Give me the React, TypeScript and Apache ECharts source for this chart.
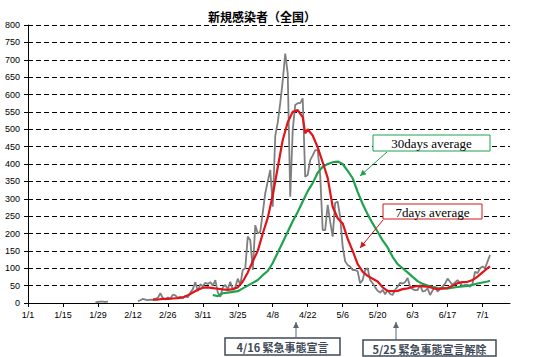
import React, { useEffect, useRef } from "react";
import * as echarts from "echarts";

// x axis: day index from 1/1 (0) to 7/12 (193); labels every 14 days
const tickLabels = ["1/1", "1/15", "1/29", "2/12", "2/26", "3/11", "3/25", "4/8", "4/22", "5/6", "5/20", "6/3", "6/17", "7/1"];
const dayMax = 193;
const tickStep = 14;

// daily new cases (gray)
const grayEarlyStart = 27;
const grayEarly = [1, 3, 4, 4, 3, 4];
const grayStart = 44;
const grayValues = [
  5, 8, 12, 10, 8, 10, 9, 12, 15, 28,
  14, 10, 16, 12, 24, 22, 15, 18, 14, 20,
  16, 30, 40, 60, 34, 54, 48, 58, 55, 60,
  50, 66, 30, 18, 45, 52, 40, 61, 38, 45,
  70, 52, 95, 100, 191, 181, 95, 224, 200, 205,
  260, 316, 350, 383, 277, 480, 520, 575, 640, 718,
  661, 306, 498, 570, 575, 575, 589, 363, 369, 411,
  425, 440, 440, 368, 210, 210, 282, 234, 191, 288,
  292, 248, 162, 120, 109, 105, 95, 95, 91, 57,
  66, 95, 100, 66, 57, 45, 35, 30, 38, 25,
  37, 26, 23, 38, 47, 58, 56, 60, 72, 47,
  40, 37, 37, 52, 33, 35, 42, 23, 36, 47,
  33, 40, 47, 56, 70, 61, 52, 59, 66, 57,
  49, 52, 52, 47, 56, 90, 86, 100, 105, 100,
  119, 138,
];

// 7 days average (red)
const redDays = [50, 52, 54, 56, 58, 60, 62, 64, 66, 68, 70, 72, 74, 76, 78, 80, 82, 84, 86, 88, 90, 92, 94, 96, 98, 100, 102, 104, 106, 108, 110, 111, 112, 114, 116, 118, 120, 122, 124, 126, 128, 130, 132, 134, 136, 138, 140, 142, 144, 146, 148, 150, 152, 154, 156, 158, 160, 162, 164, 166, 168, 170, 172, 174, 176, 178, 180, 182, 184, 185];
const redValues = [10, 10, 12, 12, 13, 14, 16, 22, 30, 38, 44, 45, 43, 41, 39, 38, 40, 45, 62, 88, 120, 150, 200, 245, 310, 390, 469, 520, 550, 555, 535, 488, 500, 482, 448, 405, 360, 277, 244, 229, 185, 150, 112, 90, 78, 70, 62, 45, 35, 34, 35, 40, 42, 46, 49, 48, 47, 43, 40, 42, 43, 50, 57, 60, 61, 66, 76, 88, 100, 105];

// 30 days average (green)
const greenDays = [74, 76, 78, 80, 82, 84, 86, 88, 90, 92, 94, 96, 98, 100, 102, 104, 106, 108, 110, 112, 114, 116, 118, 120, 122, 124, 126, 128, 130, 132, 134, 136, 138, 140, 142, 144, 146, 148, 150, 152, 154, 156, 158, 160, 162, 164, 166, 168, 170, 172, 174, 176, 178, 180, 182, 184, 185];
const greenValues = [23, 20, 28, 30, 32, 34, 42, 50, 58, 66, 80, 92, 115, 145, 175, 205, 235, 262, 292, 322, 345, 375, 392, 400, 405, 407, 400, 380, 359, 320, 285, 255, 229, 205, 180, 160, 133, 112, 100, 88, 75, 63, 55, 50, 46, 43, 42, 42, 44, 46, 48, 49, 52, 56, 59, 62, 64];

const titleText = "新規感染者（全国）";
const label30 = "30days average";
const label7 = "7days average";
const note1 = "4/16 緊急事態宣言";
const note2 = "5/25 緊急事態宣言解除";

function arrowHead(tipX: number, tipY: number, fromX: number, fromY: number, len: number, half: number) {
  const dx = tipX - fromX;
  const dy = tipY - fromY;
  const d = Math.sqrt(dx * dx + dy * dy) || 1;
  const ux = dx / d;
  const uy = dy / d;
  const bx = tipX - ux * len;
  const by = tipY - uy * len;
  return [
    [tipX, tipY],
    [bx - uy * half, by + ux * half],
    [bx + uy * half, by - ux * half],
  ];
}

function arrow(x1: number, y1: number, x2: number, y2: number, color: string, w: number) {
  return [
    { type: "line", shape: { x1, y1, x2, y2 }, style: { stroke: color, lineWidth: w }, z: 100 },
    { type: "polygon", shape: { points: arrowHead(x2, y2, x1, y1, 6, 3) }, style: { fill: color }, z: 100 },
  ];
}

export default function App() {
  const ref = useRef<HTMLDivElement>(null);
  useEffect(() => {
    if (!ref.current) return;
    const chart = echarts.init(ref.current, null, { renderer: "svg" });

    const grayData: (number | null)[][] = [];
    grayEarly.forEach((v, i) => grayData.push([grayEarlyStart + i, v]));
    grayData.push([grayEarlyStart + grayEarly.length, null]);
    grayValues.forEach((v, i) => grayData.push([grayStart + i, v]));
    const redData = redDays.map((d, i) => [d, redValues[i]]);
    const greenData = greenDays.map((d, i) => [d, greenValues[i]]);

    const labelFont = "Liberation Sans";
    const serif = '"Liberation Serif", serif';
    const noteColor = "#3e4a58";

    chart.setOption({
      animation: false,
      backgroundColor: "#fff",
      grid: { left: 28, right: 23, top: 25, bottom: 54, containLabel: false },
      xAxis: {
        type: "value",
        min: 0,
        max: dayMax,
        interval: tickStep,
        axisLine: { show: true, onZero: false, lineStyle: { color: "#000", width: 1 } },
        axisTick: { show: true, length: 4, lineStyle: { color: "#000" } },
        axisLabel: {
          color: "#000",
          fontSize: 9,
          fontFamily: labelFont,
          margin: 7,
          showMaxLabel: false,
          formatter: (v: number) => (v % tickStep === 0 ? tickLabels[v / tickStep] ?? "" : ""),
        },
        splitLine: { show: false },
      },
      yAxis: {
        type: "value",
        min: 0,
        max: 800,
        interval: 50,
        axisLine: { show: true, lineStyle: { color: "#000", width: 1 } },
        axisTick: { show: true, length: 4, lineStyle: { color: "#000" } },
        axisLabel: { color: "#000", fontSize: 9, fontFamily: labelFont, margin: 8 },
        splitLine: { show: true, lineStyle: { color: "#000", type: [5, 3], width: 1 } },
      },
      series: [
        {
          type: "line",
          data: grayData,
          symbol: "none",
          connectNulls: false,
          lineStyle: { color: "#7f7f7f", width: 1.8 },
          z: 2,
        },
        {
          type: "line",
          data: redData,
          symbol: "none",
          lineStyle: { color: "#e0141a", width: 2.2 },
          z: 4,
        },
        {
          type: "line",
          data: greenData,
          symbol: "none",
          lineStyle: { color: "#1fa24e", width: 2.2 },
          z: 3,
        },
      ],
      graphic: [
        {
          type: "text",
          x: 262,
          y: 16,
          style: {
            text: titleText,
            font: 'bold 12px "Noto Sans CJK JP"',
            fill: "#000",
            align: "center",
            verticalAlign: "middle",
          },
          z: 100,
        },
        { type: "rect", shape: { x: 373, y: 135, width: 117, height: 16 }, style: { fill: "#fff", stroke: "#1fa24e", lineWidth: 1 }, z: 100 },
        { type: "text", x: 431.5, y: 143.5, style: { text: label30, font: `13px ${serif}`, fill: "#000", align: "center", verticalAlign: "middle" }, z: 101 },
        ...arrow(387, 152, 360, 176, "#1fa24e", 1),
        { type: "rect", shape: { x: 383, y: 204, width: 99, height: 15 }, style: { fill: "#fff", stroke: "#d01818", lineWidth: 1 }, z: 100 },
        { type: "text", x: 432.5, y: 212, style: { text: label7, font: `13px ${serif}`, fill: "#000", align: "center", verticalAlign: "middle" }, z: 101 },
        ...arrow(383, 220, 360, 248, "#d01818", 1),
        { type: "rect", shape: { x: 225, y: 338, width: 115, height: 17 }, style: { fill: "#fff", stroke: noteColor, lineWidth: 1.5 }, z: 100 },
        { type: "text", x: 282.5, y: 347, style: { text: note1, font: 'bold 11px "Noto Sans CJK JP"', fill: noteColor, align: "center", verticalAlign: "middle" }, z: 101 },
        ...arrow(296, 338, 296, 322, "#5a6675", 1),
        { type: "rect", shape: { x: 363, y: 340, width: 133, height: 16 }, style: { fill: "#fff", stroke: noteColor, lineWidth: 1.5 }, z: 100 },
        { type: "text", x: 429.5, y: 348.5, style: { text: note2, font: 'bold 11px "Noto Sans CJK JP"', fill: noteColor, align: "center", verticalAlign: "middle" }, z: 101 },
        ...arrow(396, 340, 396, 322, "#5a6675", 1),
      ],
    });
    return () => chart.dispose();
  }, []);
  return <div ref={ref} style={{ position: "fixed", left: 0, top: 0, width: 533, height: 357 }} />;
}
